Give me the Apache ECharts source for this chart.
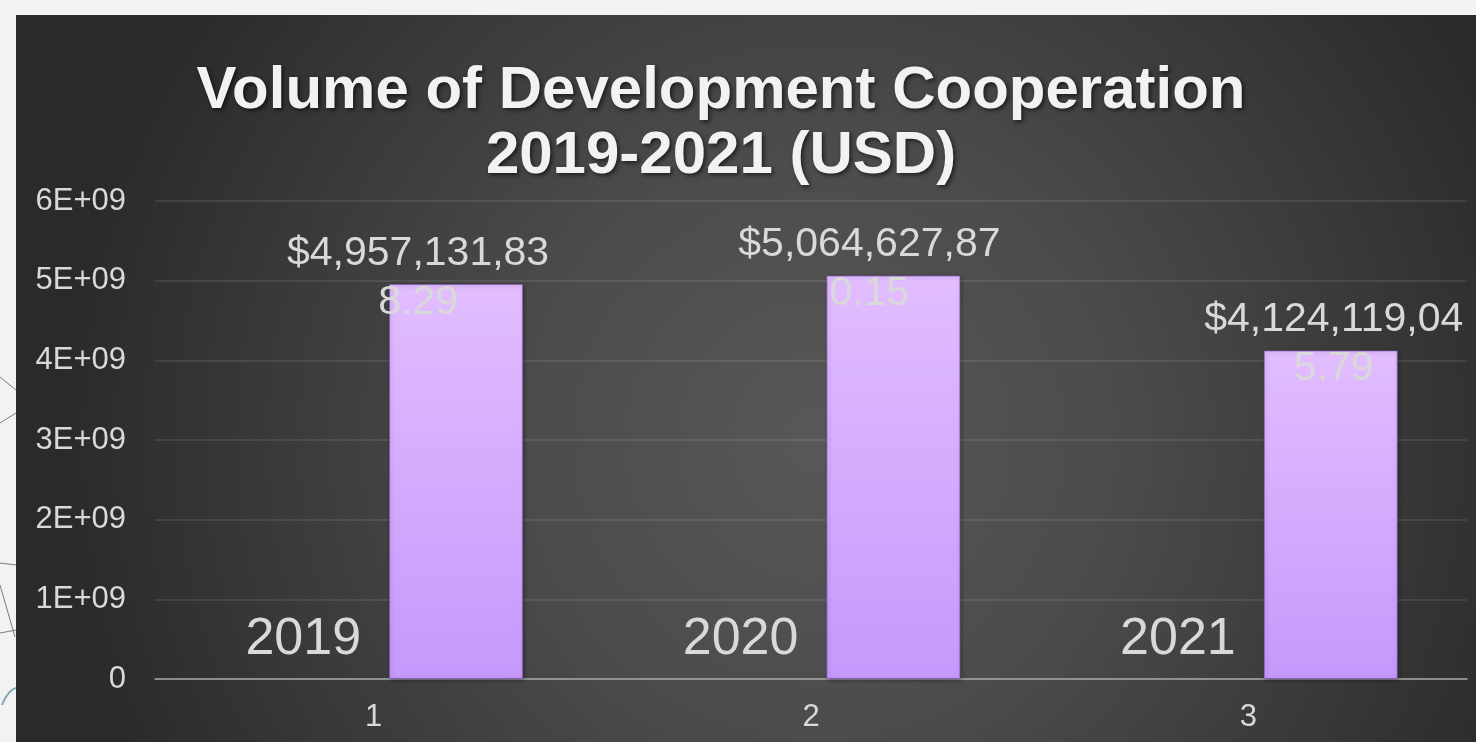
<!DOCTYPE html>
<html>
<head>
<meta charset="utf-8">
<script src="https://cdn.jsdelivr.net/npm/echarts@6/dist/echarts.min.js"></script>
<style>
  html, body { margin: 0; padding: 0; background: #f2f2f2; }
  #deco { position: absolute; left: 0; top: 0; width: 16px; height: 742px; }
  #panel {
    position: absolute; left: 16px; top: 15px; width: 1460px; height: 727px;
    background: radial-gradient(circle 760px at 803px 425px, #585858 0%, #4b4b4b 40%, #383838 75%, #2a2a2a 100%);
  }
  #chart { position: absolute; left: 0; top: 0; width: 1476px; height: 742px; }
</style>
</head>
<body>
<svg id="deco" viewBox="0 0 16 742">
  <g stroke="#7a7a7a" stroke-width="1" fill="none">
    <line x1="0" y1="377" x2="16" y2="390" />
    <line x1="0" y1="423" x2="16" y2="413" />
    <line x1="0" y1="563" x2="16" y2="565" />
    <line x1="0" y1="585" x2="15" y2="637" />
    <line x1="0" y1="633" x2="16" y2="630" />
  </g>
  <path d="M2 705 Q8 690 16 688" stroke="#7fa9b3" stroke-width="2" fill="none" />
</svg>
<div id="panel"></div>
<div id="chart"></div>
<script>
const categories = ['1', '2', '3']
const years = [2019, 2020, 2021]
const volumes = [4957131838.29, 5064627870.15, 4124119045.79]

// Excel nudged the value labels so they stay inside the plot
const labelShift = [-38, -24, 3]

const fmtUsd = (v) => {
  const [int, dec] = v.toFixed(2).split('.')
  return '$' + int.replace(/\B(?=(\d{3})+(?!\d))/g, ',') + '.' + dec
}

const chart = echarts.init(document.getElementById('chart'))

const option = {
  backgroundColor: 'transparent',
  animation: false,
  title: {
    text: 'Volume of Development Cooperation\n2019-2021 (USD)',
    left: 716,
    top: 54,
    textAlign: 'center',
    textStyle: {
      fontFamily: 'Liberation Sans, Arial, sans-serif',
      fontWeight: 'bold',
      fontSize: 60,
      lineHeight: 65,
      color: '#f2f2f2',
      textShadowColor: 'rgba(0,0,0,0.6)',
      textShadowBlur: 4,
      textShadowOffsetX: 2,
      textShadowOffsetY: 2
    }
  },
  grid: {
    left: 155,
    right: 9,
    top: 201,
    bottom: 63
  },
  xAxis: {
    type: 'category',
    data: categories,
    axisLine: { lineStyle: { color: '#a6a6a6', width: 1.5 } },
    axisTick: { show: false },
    axisLabel: {
      color: '#d9d9d9',
      fontSize: 31,
      fontFamily: 'Liberation Sans, Arial, sans-serif',
      margin: 23
    }
  },
  yAxis: {
    type: 'value',
    min: 0,
    max: 6e9,
    interval: 1e9,
    axisLine: { show: false },
    axisTick: { show: false },
    splitLine: { lineStyle: { color: 'rgba(255,255,255,0.12)', width: 1.5 } },
    axisLabel: {
      color: '#d9d9d9',
      fontSize: 31,
      fontFamily: 'Liberation Sans, Arial, sans-serif',
      margin: 29,
      formatter: (v) => v === 0 ? '0' : (v / 1e9) + 'E+09'
    }
  },
  series: [
    {
      name: 'Year',
      type: 'bar',
      data: years,
      barWidth: 134,
      barGap: '23%',
      itemStyle: { color: '#c89cfd' },
      label: {
        show: true,
        position: 'top',
        distance: 13,
        offset: [12, 0],
        color: '#d9d9d9',
        fontSize: 52,
        lineHeight: 52,
        fontFamily: 'Liberation Sans, Arial, sans-serif'
      }
    },
    {
      name: 'Volume',
      type: 'bar',
      data: volumes.map((v, i) => ({
        value: v,
        label: { offset: [labelShift[i], 43] }
      })),
      barWidth: 134,
      itemStyle: {
        color: new echarts.graphic.LinearGradient(0, 0, 0, 1, [
          { offset: 0, color: '#e2bdff' },
          { offset: 1, color: '#c698fc' }
        ]),
        borderColor: 'rgba(130, 90, 185, 0.7)',
        borderWidth: 1,
        shadowColor: 'rgba(0,0,0,0.35)',
        shadowBlur: 4,
        shadowOffsetX: 1,
        shadowOffsetY: 1
      },
      label: {
        show: true,
        position: 'top',
        distance: 0,
        width: 272,
        overflow: 'breakAll',
        align: 'center',
        color: '#d9d9d9',
        fontSize: 41,
        lineHeight: 49,
        fontFamily: 'Liberation Sans, Arial, sans-serif',
        formatter: (p) => fmtUsd(p.value)
      }
    }
  ]
}

chart.setOption(option)

window.addEventListener('resize', () => {
  if (chart && !chart.isDisposed()) chart.resize()
})
</script>
</body>
</html>
